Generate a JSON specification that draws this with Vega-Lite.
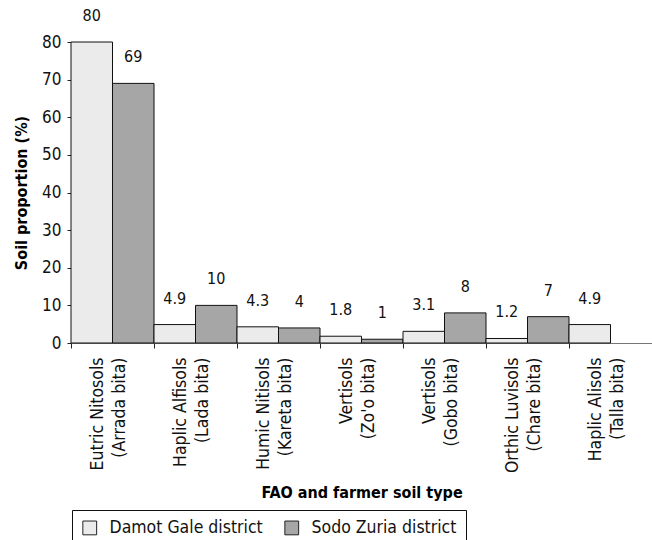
{
  "$schema": "https://vega.github.io/schema/vega-lite/v6.json",
  "autosize": {"type": "none"},
  "padding": {"left": 71, "top": 42, "right": 0, "bottom": 197},
  "width": 581,
  "height": 301,
  "background": "white",
  "config": {
    "view": {"stroke": null},
    "font": "DejaVu Sans Condensed, Liberation Sans",
    "axis": {"labelFont": "DejaVu Sans Condensed, Liberation Sans", "titleFont": "DejaVu Sans Condensed, Liberation Sans", "labelColor": "#111", "titleColor": "#000"},
    "legend": {"labelFont": "DejaVu Sans Condensed, Liberation Sans"}
  },
  "data": {
    "values": [
      {"soil": "Eutric Nitosols|(Arrada bita)", "district": "Damot Gale district", "value": 80},
      {"soil": "Eutric Nitosols|(Arrada bita)", "district": "Sodo Zuria district", "value": 69},
      {"soil": "Haplic Alfisols|(Lada bita)", "district": "Damot Gale district", "value": 4.9},
      {"soil": "Haplic Alfisols|(Lada bita)", "district": "Sodo Zuria district", "value": 10},
      {"soil": "Humic Nitisols|(Kareta bita)", "district": "Damot Gale district", "value": 4.3},
      {"soil": "Humic Nitisols|(Kareta bita)", "district": "Sodo Zuria district", "value": 4},
      {"soil": "Vertisols|(Zo'o bita)", "district": "Damot Gale district", "value": 1.8},
      {"soil": "Vertisols|(Zo'o bita)", "district": "Sodo Zuria district", "value": 1},
      {"soil": "Vertisols|(Gobo bita)", "district": "Damot Gale district", "value": 3.1},
      {"soil": "Vertisols|(Gobo bita)", "district": "Sodo Zuria district", "value": 8},
      {"soil": "Orthic Luvisols|(Chare bita)", "district": "Damot Gale district", "value": 1.2},
      {"soil": "Orthic Luvisols|(Chare bita)", "district": "Sodo Zuria district", "value": 7},
      {"soil": "Haplic Alisols|(Talla bita)", "district": "Damot Gale district", "value": 4.9}
    ]
  },
  "encoding": {
    "x": {
      "field": "soil", "type": "nominal", "sort": null,
      "scale": {"paddingInner": 0, "paddingOuter": 0},
      "axis": {
        "title": "FAO and farmer soil type",
        "titleFontSize": 16, "titleFontWeight": "bold", "titlePadding": 12,
        "labelExpr": "split(datum.label, '|')",
        "labelAngle": -90, "labelAlign": "right", "labelBaseline": "middle",
        "labelFontSize": 17.5, "labelLineHeight": 22, "labelPadding": 9, "labelOffset": -15,
        "tickBand": "extent", "tickSize": 5, "tickColor": "#222",
        "domainColor": "#777", "labelLimit": 300
      }
    },
    "xOffset": {"field": "district", "type": "nominal", "scale": {"paddingInner": 0, "paddingOuter": 0}},
    "y": {
      "field": "value", "type": "quantitative",
      "scale": {"domain": [0, 80], "nice": false},
      "axis": {
        "title": "Soil proportion (%)",
        "titleFontSize": 16, "titleFontWeight": "bold", "titlePadding": 12,
        "values": [0, 10, 20, 30, 40, 50, 60, 70, 80],
        "labelFontSize": 17, "labelPadding": 6, "tickSize": 4, "tickColor": "#222",
        "domainColor": "#555", "grid": false
      }
    }
  },
  "layer": [
    {
      "mark": {"type": "bar", "stroke": "#111", "strokeWidth": 1},
      "encoding": {
        "fill": {
          "field": "district", "type": "nominal",
          "scale": {"domain": ["Damot Gale district", "Sodo Zuria district"], "range": ["#ebebeb", "#a6a6a6"]},
          "legend": {
            "title": null, "orient": "none", "direction": "horizontal",
            "legendX": 1, "legendY": 468,
            "strokeColor": "#111", "padding": 9,
            "symbolType": "square", "symbolSize": 190, "symbolStrokeColor": "#222", "symbolStrokeWidth": 1,
            "labelFontSize": 17.5, "labelColor": "#111", "columnPadding": 19, "symbolOffset": 0, "labelOffset": 11
          }
        }
      }
    },
    {
      "mark": {"type": "text", "baseline": "alphabetic", "dy": -21, "fontSize": 16, "color": "#111"},
      "encoding": {"text": {"field": "value", "type": "quantitative"}}
    }
  ]
}
